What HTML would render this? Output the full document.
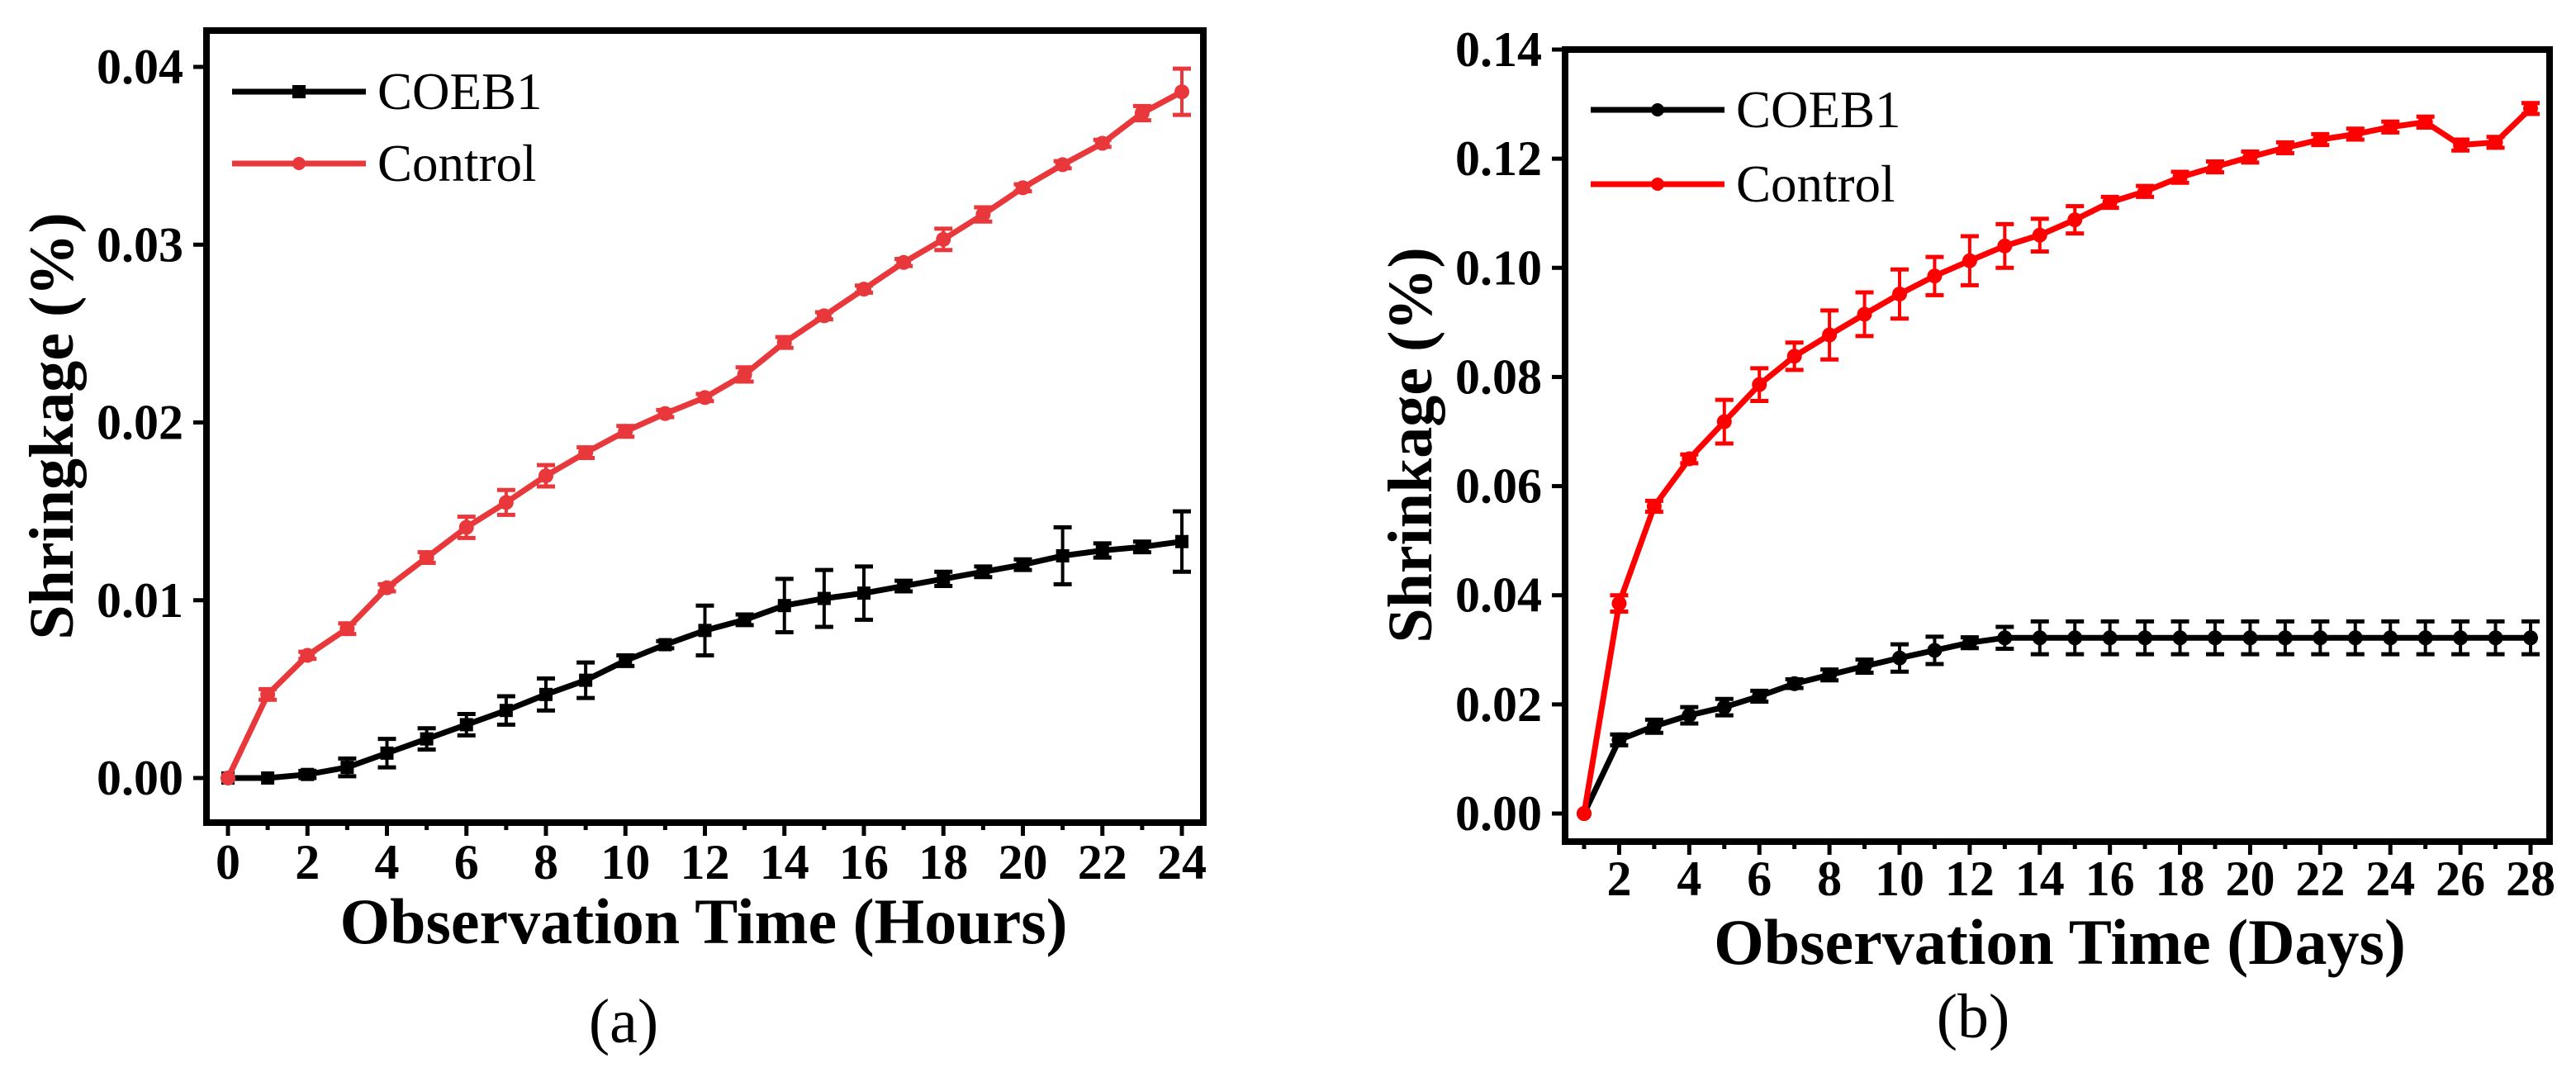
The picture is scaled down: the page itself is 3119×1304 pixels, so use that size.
<!DOCTYPE html>
<html><head><meta charset="utf-8"><style>
html,body{margin:0;padding:0;background:#fff;}
svg{display:block;}
text{font-family:"Liberation Serif",serif;}
</style></head><body>
<svg id="fig" width="3119" height="1304" viewBox="0 0 3119 1304" xmlns="http://www.w3.org/2000/svg"></svg>
<script>
// ---- Chart (a) data ----
const hoursA = [0,1,2,3,4,5,6,7,8,9,10,11,12,13,14,15,16,17,18,19,20,21,22,23,24];
const coebA = [0,0,0.0002,0.0006,0.0014,0.0022,0.003,0.0038,0.0047,0.0055,0.0066,0.0075,0.0083,0.0089,0.0097,0.0101,0.0104,0.0108,0.0112,0.0116,0.012,0.0125,0.0128,0.013,0.0133];
const coebErrA = [0,0,0.0002,0.0005,0.0008,0.0006,0.0006,0.0008,0.0009,0.001,0.0003,0.0002,0.0014,0.0003,0.0015,0.0016,0.0015,0.0003,0.0004,0.0003,0.0003,0.0016,0.0004,0.0003,0.0017];
const ctrlA = [0,0.0047,0.0069,0.0084,0.0107,0.0124,0.0141,0.0155,0.017,0.0183,0.0195,0.0205,0.0214,0.0227,0.0245,0.026,0.0275,0.029,0.0303,0.0317,0.0332,0.0345,0.0357,0.0374,0.0386];
const ctrlErrA = [0,0.0003,0.0002,0.0003,0.0002,0.0003,0.0006,0.0007,0.0006,0.0003,0.0003,0.0002,0.0002,0.0004,0.0003,0.0002,0.0002,0.0002,0.0006,0.0004,0.0002,0.0002,0.0002,0.0004,0.0013];
const yTicksA = ["0.00","0.01","0.02","0.03","0.04"];
const xTicksA = [0,2,4,6,8,10,12,14,16,18,20,22,24];
// ---- Chart (b) data ----
const daysB = [1,2,3,4,5,6,7,8,9,10,11,12,13,14,15,16,17,18,19,20,21,22,23,24,25,26,27,28];
const ctrlB = [0,0.0385,0.0563,0.065,0.0718,0.0786,0.0838,0.0877,0.0915,0.0952,0.0985,0.1013,0.104,0.106,0.1088,0.112,0.114,0.1166,0.1185,0.1203,0.122,0.1235,0.1245,0.1258,0.1267,0.1225,0.123,0.1292];
const ctrlErrB = [0,0.0015,0.001,0.0008,0.004,0.003,0.0025,0.0045,0.004,0.0045,0.0035,0.0045,0.004,0.003,0.0025,0.001,0.001,0.001,0.001,0.001,0.001,0.001,0.001,0.001,0.001,0.001,0.001,0.001];
const coebB = [0,0.0135,0.016,0.018,0.0195,0.0215,0.0238,0.0254,0.027,0.0285,0.0299,0.0313,0.0322,0.0322,0.0322,0.0322,0.0322,0.0322,0.0322,0.0322,0.0322,0.0322,0.0322,0.0322,0.0322,0.0322,0.0322,0.0322];
const coebErrB = [0,0.001,0.0012,0.0015,0.0015,0.001,0.0008,0.001,0.0012,0.0025,0.0025,0.001,0.002,0.003,0.003,0.003,0.003,0.003,0.003,0.003,0.003,0.003,0.003,0.003,0.003,0.003,0.003,0.003];
const yTicksB = ["0.00","0.02","0.04","0.06","0.08","0.10","0.12","0.14"];
const xTicksB = [2,4,6,8,10,12,14,16,18,20,22,24,26,28];

const NS="http://www.w3.org/2000/svg";
const svg=document.getElementById('fig');
function el(tag,attrs,parent,txt){const e=document.createElementNS(NS,tag);for(const k in attrs)e.setAttribute(k,attrs[k]);if(txt!==undefined)e.textContent=txt;(parent||svg).appendChild(e);return e;}

function chart(cfg){
  const g=el('g',{});
  
  
  const X=v=>cfg.x0px+(v-cfg.x0)/(cfg.x1-cfg.x0)*(cfg.x1px-cfg.x0px);
  const Y=v=>cfg.y0px-(v-cfg.y0)/(cfg.y1-cfg.y0)*(cfg.y0px-cfg.y1px);
  const f=cfg.frame;
  const fr=el('rect',{x:f[0],y:f[1],width:f[2]-f[0],height:f[3]-f[1],fill:'none',stroke:'#000','stroke-width':8},g);
  
  
  cfg.yTicks.forEach(t=>{const v=parseFloat(t),y=Y(v);
    el('line',{x1:f[0]-16,x2:f[0],y1:y,y2:y,stroke:'#000','stroke-width':5},g);
    const tx=el('text',{x:f[0]-28,y:y+20,'text-anchor':'end','font-size':60,'font-weight':'bold'},g,t);
    
    
  });
  for(let v=cfg.x0;v<=cfg.x1;v++){const x=X(v),maj=cfg.xTicks.includes(v);
    el('line',{x1:x,x2:x,y1:f[3],y2:f[3]+(maj?16:9),stroke:'#000','stroke-width':5},g);}
  cfg.xTicks.forEach(v=>{const tx=el('text',{x:X(v),y:f[3]+cfg.xLabOff,'text-anchor':'middle','font-size':60,'font-weight':'bold'},g,v);
    
    });
  const xt=el('text',{x:cfg.xTitle[1],y:cfg.xTitle[2],'text-anchor':'middle','font-size':78,'font-weight':'bold'},g,cfg.xTitle[0]);
  
  
  const yt=el('text',{x:0,y:0,'text-anchor':'middle','font-size':76,'font-weight':'bold',transform:`translate(${cfg.yTitle[1]},${cfg.yTitle[2]}) rotate(-90)`},g,cfg.yTitle[0]);
  
  
  const cap=el('text',{x:cfg.cap[1],y:cfg.cap[2],'text-anchor':'middle','font-size':76},g,cfg.cap[0]);
  
  
  cfg.series.forEach(s=>{
    const sg=el('g',{},g);
    
    
    el('polyline',{points:cfg.xs.map((v,i)=>X(v)+','+Y(s.vals[i])).join(' '),fill:'none',stroke:s.color,'stroke-width':7,'stroke-linejoin':'round'},sg);
    cfg.xs.forEach((v,i)=>{const x=X(v),y=Y(s.vals[i]),e=s.err[i];
      if(e>0){const a=Y(s.vals[i]+e),b=Y(s.vals[i]-e);
        el('line',{x1:x,x2:x,y1:a,y2:b,stroke:s.color,'stroke-width':4},sg);
        el('line',{x1:x-11,x2:x+11,y1:a,y2:a,stroke:s.color,'stroke-width':5},sg);
        el('line',{x1:x-11,x2:x+11,y1:b,y2:b,stroke:s.color,'stroke-width':5},sg);}
      if(s.marker==='sq'){const m=el('rect',{x:x-8,y:y-8,width:16,height:16,fill:s.color},sg);}
      else{const m=el('circle',{cx:x,cy:y,r:9,fill:s.color},sg);}
    });
  });
  cfg.series.forEach((s,i)=>{const L=cfg.legend,y=L[1]+i*L[2];
    const lg=el('g',{},g);
    
    
    el('line',{x1:L[0],x2:L[0]+162,y1:y,y2:y,stroke:s.color,'stroke-width':7},lg);
    if(s.marker==='sq')el('rect',{x:L[0]+73,y:y-8,width:16,height:16,fill:s.color},lg);
    else el('circle',{cx:L[0]+81,cy:y,r:8,fill:s.color},lg);
    el('text',{x:L[0]+176,y:y+21,'font-size':63},lg,s.label);
  });
}

chart({name:'chart-a-hours',frame:[250,37,1457,996],x0:0,x1:24,x0px:276,x1px:1431,y0:0,y1:0.04,y0px:942,y1px:81,xLabOff:68,
  xs:hoursA,yTicks:yTicksA,xTicks:xTicksA,xTitle:['Observation Time (Hours)',852,1142],yTitle:['Shringkage (%)',88,516],cap:['(a)',755,1262],
  legend:[281,111,87],
  series:[{name:'coeb1-series',label:'COEB1',vals:coebA,err:coebErrA,color:'#000',marker:'sq'},
          {name:'control-series',label:'Control',vals:ctrlA,err:ctrlErrA,color:'#e8383b',marker:'c'}]});

chart({name:'chart-b-days',frame:[1895,60,3087,1019],x0:1,x1:28,x0px:1918,x1px:3064,y0:0,y1:0.14,y0px:985,y1px:60,xLabOff:65,
  xs:daysB,yTicks:yTicksB,xTicks:xTicksB,xTitle:['Observation Time (Days)',2494,1167],yTitle:['Shrinkage (%)',1733,539],cap:['(b)',2389,1256],
  legend:[1926,133,90],
  series:[{name:'coeb1-series',label:'COEB1',vals:coebB,err:coebErrB,color:'#000',marker:'c'},
          {name:'control-series',label:'Control',vals:ctrlB,err:ctrlErrB,color:'#f00',marker:'c'}]});
</script>
</body></html>
